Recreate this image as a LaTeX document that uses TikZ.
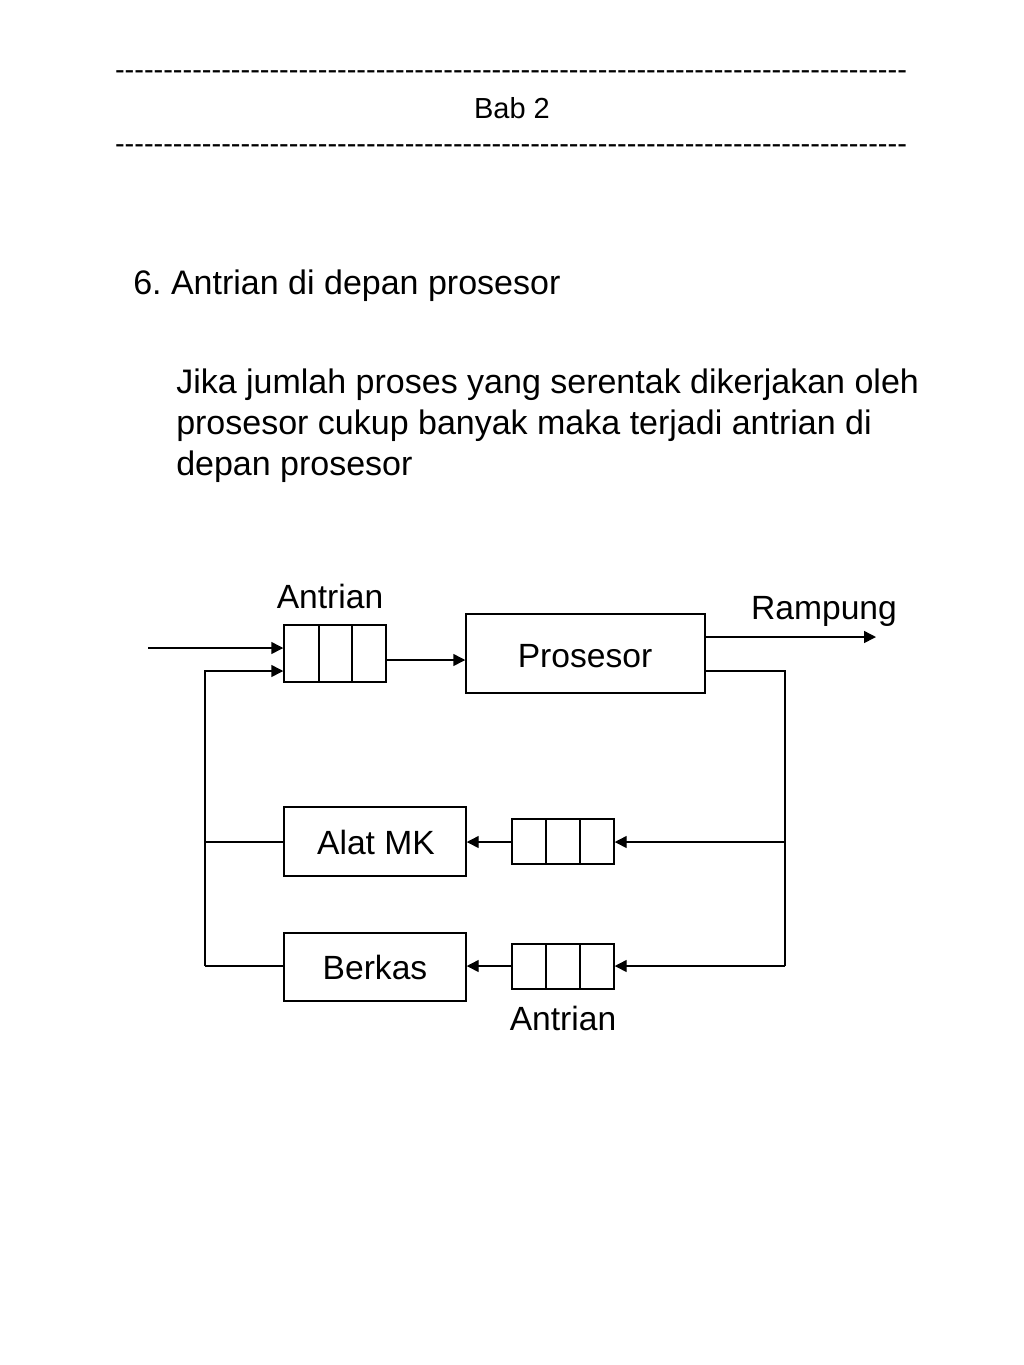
\documentclass[tikz,border=0pt]{standalone}
\usepackage{fontspec}
\setmainfont{Liberation Sans}[Ligatures=TeXOff]
\usetikzlibrary{arrows.meta}
\frenchspacing
\begin{document}
\begin{tikzpicture}[x=0.75pt,y=-0.75pt,
  txt/.style={inner sep=0pt,anchor=base,font=\fontsize{25.2}{30.75}\selectfont},
  ptxt/.style={inner sep=0pt,anchor=base west,font=\fontsize{25.5}{30.75}\selectfont},
  hdr/.style={inner sep=0pt,anchor=base,font=\fontsize{21.75}{26}\selectfont},
  boxn/.style={draw,line width=1.1pt,inner sep=0pt,rectangle},
  conn/.style={line width=1.1pt},
  arr/.style={line width=1.1pt,-{Triangle[length=9pt,width=9pt]}}]
\useasboundingbox (0,0) rectangle (1024,1365);
% header
\node[hdr] (d1) at (511,79) {----------------------------------------------------------------------------------};
\node[hdr] (bab) at (512,118) {Bab 2};
\node[hdr] (d2) at (511,153) {----------------------------------------------------------------------------------};
% text
\node[ptxt] (h) at (133,294) {6. Antrian di depan prosesor};
\node[ptxt] (p1) at (176,393) {Jika jumlah proses yang serentak dikerjakan oleh};
\node[ptxt] (p2) at (176,434) {prosesor cukup banyak maka terjadi antrian di};
\node[ptxt] (p3) at (176,475) {depan prosesor};
% boxes
\node[boxn,minimum width=239*0.75pt,minimum height=79*0.75pt] (cpu) at (585.5,653.5) {};
\node[txt] at (585,667) {Prosesor};
\node[boxn,minimum width=182*0.75pt,minimum height=69*0.75pt] (alat) at (375,841.5) {};
\node[txt] at (376,854) {Alat MK};
\node[boxn,minimum width=182*0.75pt,minimum height=68*0.75pt] (berkas) at (375,967) {};
\node[txt] at (375,979) {Berkas};
% queues
\node[boxn,minimum width=102*0.75pt,minimum height=57*0.75pt] (q1) at (335,653.5) {};
\draw[conn] (319,625) -- (319,682) (352,625) -- (352,682);
\node[boxn,minimum width=102*0.75pt,minimum height=45*0.75pt] (q2) at (563,841.5) {};
\draw[conn] (546,819) -- (546,864) (580,819) -- (580,864);
\node[boxn,minimum width=102*0.75pt,minimum height=45*0.75pt] (q3) at (563,966.5) {};
\draw[conn] (546,944) -- (546,989) (580,944) -- (580,989);
% labels
\node[txt] (lbl1) at (330,608) {Antrian};
\node[txt] (lbl2) at (824,619) {Rampung};
\node[txt] (lbl3) at (563,1030) {Antrian};
% coordinates
\coordinate (in) at (148,648);
\coordinate (out) at (876,637);
\coordinate (lt) at (205,671);
\coordinate (lm) at (205,842);
\coordinate (lb) at (205,966);
\coordinate (rt) at (785,671);
\coordinate (rm) at (785,842);
\coordinate (rb) at (785,966);
% connectors
\draw[arr] (in) -- (in -| q1.west);
\draw[arr] (lb) -- (lt) -- (lt -| q1.west);
\draw[conn] (lm) -- (lm -| alat.west);
\draw[conn] (lb) -- (lb -| berkas.west);
\draw[arr] (q1.east |- 0,660) -- (cpu.west |- 0,660);
\draw[arr] (out -| cpu.east) -- (out);
\draw[conn] (rt -| cpu.east) -- (rt) -- (rb);
\draw[arr] (rm) -- (rm -| q2.east);
\draw[arr] (rb) -- (rb -| q3.east);
\draw[arr] (q2.west |- rm) -- (alat.east |- rm);
\draw[arr] (q3.west |- rb) -- (berkas.east |- rb);
\end{tikzpicture}
\end{document}
